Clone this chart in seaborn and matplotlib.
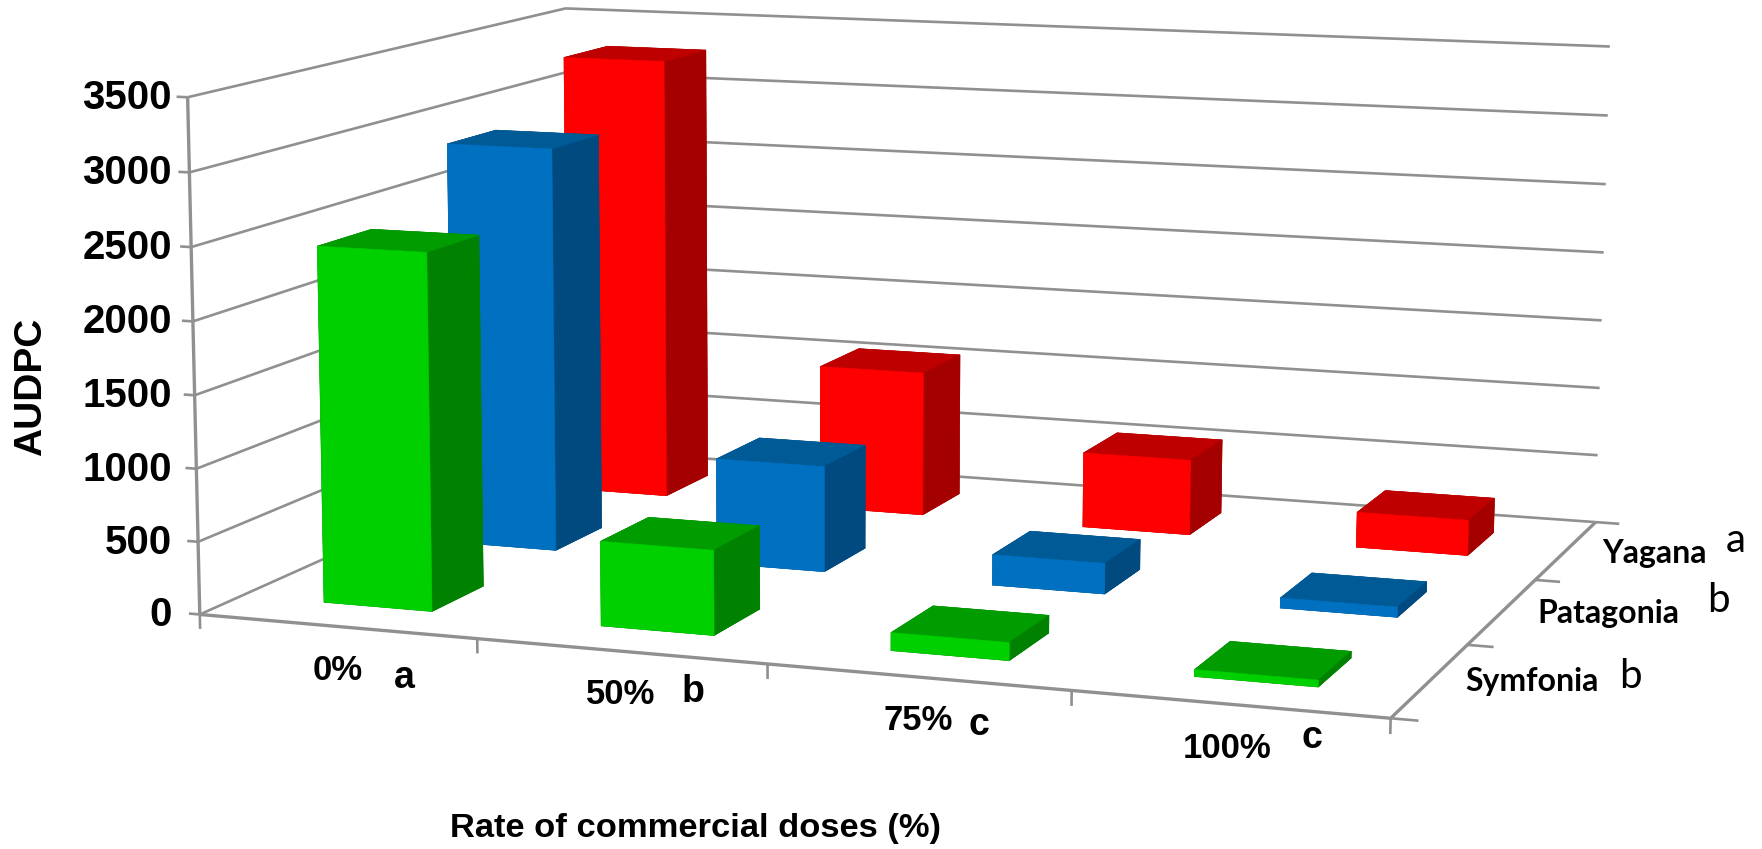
import numpy as np
import matplotlib
matplotlib.use("Agg")
import matplotlib.pyplot as plt
import seaborn as sns

# AUDPC by commercial dose rate and cultivar
doses = ["0%", "50%", "75%", "100%"]
dose_letters = ["a", "b", "c", "c"]
cultivars = ["Symfonia", "Patagonia", "Yagana"]
cultivar_letters = ["b", "b", "a"]
symfonia = [2450, 575, 120, 45]
patagonia = [2890, 750, 215, 70]
yagana = [3290, 1065, 550, 255]
z_ticks = [0, 500, 1000, 1500, 2000, 2500, 3000, 3500]

W, H = 1762, 849
SERIES = [symfonia, patagonia, yagana]

# front, side and top shades per cultivar
front_colors = sns.color_palette(["#00D000", "#0070C0", "#FF0000"])
side_colors = sns.color_palette(["#008200", "#004A80", "#A50000"])
top_colors = sns.color_palette(["#009C00", "#005A96", "#BE0000"])

sns.set_theme(style="white")
GRID = "#909090"
ARIAL = "Liberation Sans"
LABEL_FONT = "Lato"

# Camera calibration: box corners (dose, cultivar, AUDPC) and where they sit on the canvas
corners = np.array([[0, 0, 0], [4, 0, 0], [4, 3, 0],
                    [0, 0, 3500], [0, 3, 3500], [4, 3, 3500]], float)
canvas = np.array([[200, 615], [1390, 719], [1596, 521],
                   [188, 96], [565, 9], [1610, 47]], float)

rows = []
for (x, y, z), (u, v) in zip(corners, canvas):
    rows.append([x, y, z, 1, 0, 0, 0, 0, -u * x, -u * y, -u * z, -u])
    rows.append([0, 0, 0, 0, x, y, z, 1, -v * x, -v * y, -v * z, -v])
camera = np.linalg.svd(np.array(rows))[2][-1].reshape(3, 4)
if camera[2] @ np.array([0, 0, 0, 1]) < 0:
    camera = -camera


def project(x, y, z):
    u, v, w = camera @ np.array([x, y, z, 1.0])
    return u / w, v / w


fig = plt.figure(figsize=(W / 100, H / 100), dpi=100, facecolor="white")
ax = fig.add_axes([0, 0, 1, 1], projection="3d")
ax.set_axis_off()
ax.patch.set_visible(False)
ax.computed_zorder = False


def camera_matrix():
    # canvas pixels (y down) -> display pixels -> the axes' 2D data space
    flip = np.array([[1, 0, 0], [0, -1, H], [0, 0, 1.0]])
    to_data = ax.transData.inverted().get_matrix()
    uvw = to_data @ flip @ camera
    return np.vstack([uvw[0], uvw[1], [0, 0, 0, -1.0], uvw[2]])


ax.get_proj = camera_matrix


def line(xs, ys, zs, lw=1.9):
    art, = ax.plot(xs, ys, zs, color=GRID, lw=lw, solid_capstyle="butt", zorder=1)
    art.set_clip_on(False)


# Walls: horizontal grid along the left and back sides
for level in z_ticks:
    line([0, 0, 4], [0, 3, 3], [level] * 3)
# Frame of the floor and the vertical axis
line([0, 4, 4], [0, 0, 3], [0, 0, 0], lw=2.4)
line([0, 0], [0, 0], [0, 3500], lw=2.4)

# Tick marks, offset in data units along each axis
for level in z_ticks:
    line([-0.04, 0], [0, 0], [level, level])
for i in range(len(doses) + 1):
    line([i, i], [0, 0], [0, -100])
for j in range(len(cultivars) + 1):
    line([4, 4.085], [j, j], [0, 0])

# Bars, painted from the back row to the front row
BAR_DX, BAR_DY = 0.395, 0.40
for j in reversed(range(len(cultivars))):
    for i in range(len(doses)):
        faces = [side_colors[j], top_colors[j], front_colors[j],
                 side_colors[j], side_colors[j], side_colors[j]]
        bar = ax.bar3d(i + 0.5 - BAR_DX / 2, j + 0.5 - BAR_DY / 2, 0,
                       BAR_DX, BAR_DY, SERIES[j][i],
                       color=faces, edgecolor=faces, linewidth=0.4,
                       shade=False, zorder=10 + (3 - j) * 10 + i)
        bar.set_clip_on(False)


def label(x, y, text, font=ARIAL, size=24, weight="bold", **kw):
    fig.text(x / W, 1 - y / H, text, family=font, fontsize=size, fontweight=weight,
             color="black", ha=kw.pop("ha", "center"), va="center", **kw)


for level in z_ticks:
    label(172, project(0, 0, level)[1] + 1, str(level), size=29, ha="right")

label(31, 387, "AUDPC", size=28, rotation=90)
label(695, 829, "Rate of commercial doses (%)", size=24.8)

for text, letter, tx, lx, ty, ly in zip(doses, dose_letters,
                                        [338, 621, 918, 1227], [404, 693, 979, 1312],
                                        [671, 695, 721, 748], [678, 692, 725, 738]):
    label(tx, ty, text, size=25)
    label(lx, ly, letter, size=27)

for text, letter, tx, lx, ty, ly in zip(cultivars, cultivar_letters,
                                        [1532, 1608, 1654], [1630, 1718, 1736],
                                        [682, 613, 553], [676, 601, 541]):
    label(tx, ty, text, font=LABEL_FONT, size=23)
    label(lx, ly, letter, font=LABEL_FONT, size=29, weight="normal")

fig.savefig("out.png", dpi=100)
